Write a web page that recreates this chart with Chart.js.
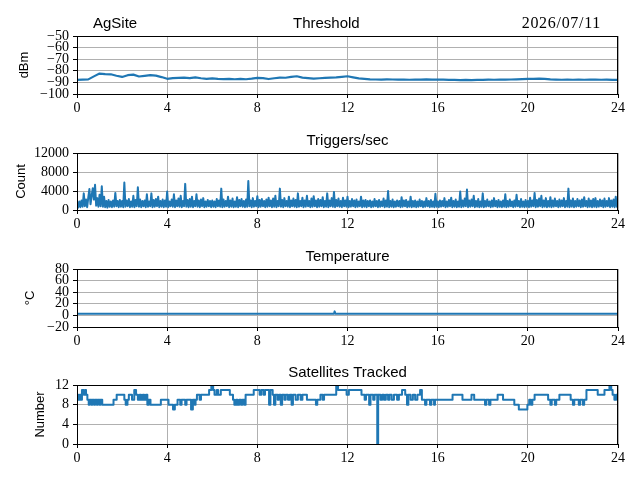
<!DOCTYPE html>
<html><head><meta charset="utf-8">
<script src="https://cdn.jsdelivr.net/npm/chart.js@4.4.1/dist/chart.umd.min.js"></script>
<style>
html,body{margin:0;padding:0;background:#fff;}
#wrap{position:relative;width:640px;height:480px;background:#fff;}
canvas{position:absolute;left:0;top:0;}
</style></head><body>
<div id="wrap">
<canvas id="c1" width="640" height="480"></canvas>
<canvas id="c2" width="640" height="480"></canvas>
<canvas id="c3" width="640" height="480"></canvas>
<canvas id="c4" width="640" height="480"></canvas>
</div>
<script>
// ---------- text ----------
const siteName = "AgSite";
const dateText = "2026/07/11";
const panelTitles = ["Threshold", "Triggers/sec", "Temperature", "Satellites Tracked"];
const yAxisLabels = ["dBm", "Count", "\u00B0C", "Number"];

// ---------- tick labels ----------
const xTicks = [0, 4, 8, 12, 16, 20, 24];
const thresholdTicks = [-100, -90, -80, -70, -60, -50];
const triggerTicks = [0, 4000, 8000, 12000];
const temperatureTicks = [-20, 0, 20, 40, 60, 80];
const satelliteTicks = [0, 4, 8, 12];

// ---------- data ----------
// Threshold (dBm), one sample every 0.25 h from 0 h
const thresholdStepHours = 0.25;
const thresholdValues = [
 -87.8,-87.6,-87.4,-84.8,-82.4,-82.9,-83.0,-84.3,-85.3,-83.8,
 -83.3,-84.9,-84.3,-83.7,-84.2,-85.4,-86.9,-86.3,-86.1,-85.9,
 -86.3,-85.7,-86.4,-86.9,-86.5,-86.9,-87.1,-86.9,-87.3,-87.0,
 -87.3,-86.8,-86.1,-86.3,-87.1,-86.4,-85.9,-86.0,-85.3,-84.7,
 -85.9,-86.3,-86.8,-86.4,-86.1,-85.9,-85.7,-85.2,-84.7,-85.6,
 -86.5,-86.9,-87.4,-87.5,-87.6,-87.4,-87.5,-87.6,-87.5,-87.7,
 -87.5,-87.6,-87.4,-87.6,-87.5,-87.6,-87.8,-87.9,-88.0,-87.9,
 -88.0,-87.9,-87.8,-87.6,-87.7,-87.5,-87.6,-87.5,-87.4,-87.2,
 -87.0,-86.9,-86.8,-87.0,-87.4,-87.6,-87.7,-87.6,-87.7,-87.6,
 -87.7,-87.6,-87.5,-87.7,-87.6,-87.8,-87.9
];

// Triggers/sec (count), one sample every 0.05 h from 0 h (one row per hour)
const triggerStepHours = 0.05;
const triggerValues = [
 1200,500,1800,600,2000,700,3500,800,2200,600,2600,4400,1200,3000,4600,2200,5300,900,2500,700,
 3200,800,5000,700,2800,600,1900,500,2100,700,1800,600,2000,700,3600,800,1900,600,2100,700,
 1900,600,5800,700,2000,800,2300,600,1800,700,3000,600,2100,800,4800,700,2200,600,1900,800,
 2000,600,3300,700,1800,800,3500,600,2100,700,2300,800,2800,600,1900,700,2200,600,2000,700,
 3900,600,1800,800,2200,700,3300,600,2000,800,2400,700,3000,600,1900,800,5500,700,2100,600,
 2300,700,2800,600,1900,800,3300,700,2000,600,2200,800,2500,600,1800,700,2100,800,1900,600,
 2000,700,1800,600,2300,800,2000,700,4500,600,2200,700,1900,800,2800,600,2000,700,2400,600,
 1800,700,2700,600,2100,800,2300,700,1900,600,2200,700,6100,800,2000,600,2500,700,1900,800,
 2900,600,2100,700,2300,800,1900,600,2200,700,2600,800,2000,600,2400,700,3000,600,1900,800,
 4500,700,2100,600,2500,800,1900,700,2800,600,2000,800,2400,700,2100,600,3500,700,1900,800,
 2600,600,2000,700,3000,800,1900,600,2400,700,2900,800,2000,600,2300,700,2100,800,2700,600,
 1900,700,3500,600,2000,800,2500,700,3800,600,2100,800,2400,700,1900,600,2600,800,2000,700,
 2800,600,1900,700,2300,800,2000,600,2200,700,1800,800,2800,600,2000,700,2100,600,1900,800,
 2000,600,1800,700,2300,800,1900,600,2100,700,1800,800,2400,600,2000,700,4000,600,1900,700,
 2200,600,1800,700,2000,800,1900,600,2700,700,2000,800,2100,600,1800,700,2800,600,1900,700,
 2000,600,1800,700,2200,800,1900,600,1800,700,2500,800,1900,600,2100,700,1800,600,3400,700,
 1800,600,2000,700,1900,800,2500,600,1800,700,2100,800,2600,600,1900,700,2200,600,1800,700,
 3900,600,2000,700,2400,800,4300,600,2000,700,2200,800,3000,600,1900,700,2300,600,1800,700,
 3500,600,1900,700,2200,800,1800,600,2000,700,2500,800,1900,600,2100,700,1800,600,2000,700,
 3300,600,1900,700,2200,800,1800,600,2000,700,3200,800,1900,600,2300,700,1800,600,2100,700,
 1900,600,2600,700,2000,800,3600,600,2100,700,2400,800,3000,600,2000,700,2500,600,1900,700,
 2700,600,2000,700,2400,800,1900,600,2200,700,2000,800,2500,600,1900,700,4500,600,2000,700,
 2400,600,1900,700,2300,800,2000,600,2200,700,2700,800,1900,600,2400,700,2000,600,2300,700,
 2500,600,1900,700,2200,800,2000,600,2400,700,1900,800,2500,600,2000,700,2200,600,2800,700,
 1800
];

// Temperature (°C)
const temperatureHours  = [0, 11.40, 11.43, 11.46, 24];
const temperatureValues = [3, 3, 7, 3, 3];

// Satellites tracked: hour at which the count changes, and the new count
const satelliteHours = [
 0.00,0.06,0.12,0.18,0.22,0.30,0.36,0.40,0.46,0.52,0.56,0.64,0.68,0.76,0.80,0.88,0.92,1.00,1.04,1.12,
 1.62,1.76,2.10,2.16,2.24,2.30,2.44,2.54,2.62,2.70,2.78,2.84,2.92,2.98,3.06,3.12,3.18,3.26,3.72,4.06,
 4.26,4.34,4.46,4.58,4.64,4.80,4.86,5.06,5.14,5.22,5.26,5.32,5.44,5.50,5.86,5.96,6.04,6.10,6.20,6.26,
 6.38,6.78,6.92,6.98,7.06,7.12,7.20,7.28,7.34,7.42,7.48,7.84,8.10,8.18,8.28,8.34,8.52,8.58,8.68,8.74,
 8.80,8.90,8.96,9.04,9.10,9.20,9.26,9.36,9.44,9.52,9.58,9.70,9.80,9.92,10.00,10.20,10.60,10.66,10.80,10.90,
 10.96,11.50,11.58,11.96,12.06,12.62,12.76,12.82,12.96,13.02,13.14,13.20,13.32,13.36,13.46,13.54,13.62,13.70,13.80,13.86,
 13.96,14.06,14.20,14.28,14.42,14.56,14.64,14.70,14.80,14.90,15.00,15.10,15.22,15.30,15.44,15.50,15.66,15.72,15.84,15.88,
 16.66,17.10,17.50,17.62,18.10,18.16,18.28,18.34,18.66,18.90,19.40,19.60,19.98,20.06,20.14,20.20,20.30,20.90,21.00,21.06,
 21.20,21.26,21.40,21.90,22.00,22.06,22.26,22.32,22.44,22.50,22.60,23.10,23.40,23.62,23.70,23.76,23.84,23.92,24.00
];
const satelliteValues = [
 10,9,10,9,11,10,11,10,9,8,9,8,9,8,9,8,9,8,9,8,
 9,10,9,8,9,10,9,11,10,9,10,9,10,9,10,8,9,8,9,8,
 7,8,9,8,9,8,9,7,9,8,9,10,9,10,11,12,11,10,11,10,
 11,10,9,8,9,8,9,8,9,8,10,11,10,11,10,11,8,11,10,8,
 10,9,10,8,10,9,10,9,10,8,10,9,10,9,10,9,8,9,10,9,
 10,12,11,10,11,10,9,10,8,10,9,10,0,10,9,10,9,10,9,10,
 9,10,9,10,11,10,8,10,9,10,9,10,11,9,8,9,8,9,8,9,
 10,9,10,9,8,9,8,9,10,9,8,7,8,9,8,9,10,9,8,9,
 8,9,10,9,8,9,8,9,8,9,11,10,11,12,11,10,9,10,10
];

// ---------- build point lists ----------
const thresholdPoints = thresholdValues.map((v, i) => ({x: i * thresholdStepHours, y: v}));
const triggerPoints = triggerValues.map((v, i) => ({x: i * triggerStepHours, y: v}));
const temperaturePoints = temperatureHours.map((h, i) => ({x: h, y: temperatureValues[i]}));
const satellitePoints = satelliteHours.map((h, i) => ({x: h, y: satelliteValues[i]}));

// ---------- layout ----------
const PLOT_LEFT = 77, PLOT_RIGHT = 618, XAXIS_H = 28;
const COLOR = '#1f77b4';
const SERIF = '"Liberation Serif", "DejaVu Serif", serif';
const SANS = '"Liberation Sans", "DejaVu Sans", sans-serif';

function fmt(v) { return String(v).replace('-', '\u2212'); }

function panelPlugin(idx, yLabelX, extra) {
  return {
    id: 'panel' + idx,
    afterDraw(chart) {
      const ctx = chart.ctx, a = chart.chartArea;
      ctx.save();
      ctx.strokeStyle = '#000';
      ctx.lineWidth = 1;
      ctx.strokeRect(a.left + 0.5, a.top + 0.5, a.right - a.left - 1, a.bottom - a.top);
      ctx.fillStyle = '#000';
      ctx.textBaseline = 'alphabetic';
      ctx.font = '15px ' + SANS;
      if (extra) {
        ctx.textAlign = 'left';
        ctx.fillText(siteName, 93, a.top - 8);
        ctx.fillText(panelTitles[idx], 293, a.top - 8);
        ctx.textAlign = 'right';
        ctx.font = '16px ' + SERIF;
        try { ctx.letterSpacing = '0.7px'; } catch (e) {}
        ctx.fillText(dateText, 601, a.top - 8);
        try { ctx.letterSpacing = '0px'; } catch (e) {}
      } else {
        ctx.textAlign = 'center';
        ctx.fillText(panelTitles[idx], (a.left + a.right) / 2, a.top - 8);
      }
      ctx.font = '13px ' + SANS;
      ctx.translate(yLabelX, (a.top + a.bottom) / 2);
      ctx.rotate(-Math.PI / 2);
      ctx.textAlign = 'center';
      ctx.textBaseline = 'middle';
      ctx.fillText(yAxisLabels[idx], 0, 0);
      ctx.restore();
    }
  };
}

function makePanel(id, idx, points, yMin, yMax, yTicks, top, bottom, yLabelX, opts) {
  opts = opts || {};
  const tickFont = {family: SERIF, size: 14};
  return new Chart(document.getElementById(id), {
    type: 'line',
    data: {datasets: [{
      data: points, borderColor: COLOR, borderWidth: opts.lw || 2,
      pointRadius: 0, fill: false, tension: 0, stepped: opts.stepped || false,
      borderJoinStyle: 'round', borderCapStyle: 'butt'
    }]},
    options: {
      responsive: false, animation: false, devicePixelRatio: 1,
      layout: {padding: {top: top, left: 0, right: 640 - PLOT_RIGHT, bottom: 480 - bottom - XAXIS_H}},
      plugins: {legend: {display: false}, tooltip: {enabled: false}, title: {display: false}},
      scales: {
        x: {
          type: 'linear', min: 0, max: 24,
          afterBuildTicks: s => { s.ticks = xTicks.map(v => ({value: v})); },
          afterFit: s => { s.height = XAXIS_H; },
          ticks: {color: '#000', font: tickFont, padding: 2, maxRotation: 0, autoSkip: false, callback: v => fmt(v)},
          grid: {color: '#b0b0b0', lineWidth: 1, drawTicks: true, tickLength: 4, tickColor: '#000', tickWidth: 1},
          border: {display: true, color: '#000', width: 1}
        },
        y: {
          type: 'linear', min: yMin, max: yMax,
          afterBuildTicks: s => { s.ticks = yTicks.map(v => ({value: v})); },
          afterFit: s => { s.width = PLOT_LEFT; },
          ticks: {color: '#000', font: tickFont, padding: 4, autoSkip: false, callback: v => fmt(v)},
          grid: {color: '#b0b0b0', lineWidth: 1, drawTicks: true, tickLength: 4, tickColor: '#000', tickWidth: 1},
          border: {display: true, color: '#000', width: 1}
        }
      }
    },
    plugins: [panelPlugin(idx, yLabelX, opts.extra)]
  });
}

makePanel('c1', 0, thresholdPoints, -100, -50, thresholdTicks, 36, 94, 24, {extra: true, lw: 2.2});
makePanel('c2', 1, triggerPoints, 0, 12000, triggerTicks, 153, 210, 21, {lw: 2});
makePanel('c3', 2, temperaturePoints, -20, 80, temperatureTicks, 269, 327, 30, {lw: 2});
makePanel('c4', 3, satellitePoints, 0, 12, satelliteTicks, 385, 444, 40, {lw: 2, stepped: 'before'});
</script>
</body></html>
